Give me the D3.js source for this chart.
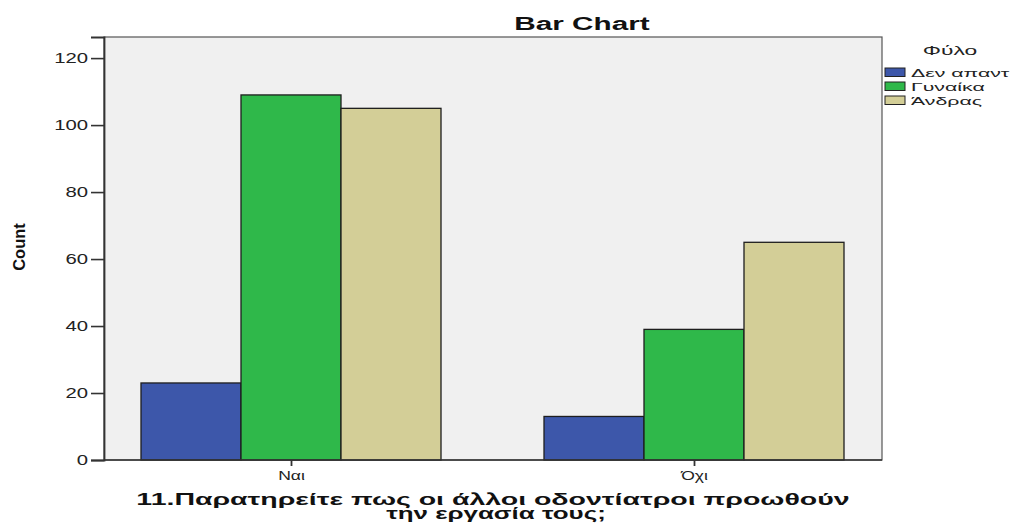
<!DOCTYPE html>
<html>
<head>
<meta charset="utf-8">
<script src="https://cdn.jsdelivr.net/npm/d3@7"></script>
<style>
  body { margin: 0; background: #ffffff; }
  svg { display: block; }
</style>
</head>
<body>
<svg id="chart" width="1013" height="523"></svg>
<script>
// Answers to question 11, split by gender
const categories = ["Ναι", "Όχι"];
const seriesNames = ["Δεν απαντ", "Γυναίκα", "Άνδρας"];
const seriesColors = ["#3d57aa", "#2fb84a", "#d3ce97"];
const noAnswer = [23, 13];
const women = [109, 39];
const men = [105, 65];
const yTicks = [0, 20, 40, 60, 80, 100, 120];

const seriesValues = [noAnswer, women, men];
const rows = categories.map((c, i) => ({
  category: c,
  values: seriesNames.map((s, j) => ({ series: s, value: seriesValues[j][i], color: seriesColors[j] }))
}));

const svg = d3.select("#chart");
const plot = { left: 104, right: 882, top: 37, bottom: 460 };
const SANS = "Liberation Sans, Arial, sans-serif";

// widen glyphs horizontally by a factor, keeping the anchor in place
function widen(sel, sx) {
  sel.each(function (d, i) {
    const f = typeof sx === "function" ? sx(d, i) : sx;
    const w = this.getComputedTextLength();
    d3.select(this).attr("textLength", w * f).attr("lengthAdjust", "spacingAndGlyphs");
  });
}

const y = d3.scaleLinear().domain([0, 126.3]).range([plot.bottom, plot.top]);
const x = d3.scalePoint().domain(categories).range([291, 694]);
const xInner = d3.scaleBand().domain(seriesNames).range([-150, 150]).padding(0);

// plot background
svg.append("rect")
  .attr("x", plot.left).attr("y", plot.top)
  .attr("width", plot.right - plot.left).attr("height", plot.bottom - plot.top)
  .attr("fill", "#f0f0f0")
  .attr("stroke", "#555").attr("stroke-width", 1.2);

// bars
const groups = svg.selectAll("g.group").data(rows).join("g")
  .attr("class", "group")
  .attr("transform", d => `translate(${x(d.category)},0)`);

groups.selectAll("rect").data(d => d.values).join("rect")
  .attr("x", d => xInner(d.series))
  .attr("y", d => y(d.value))
  .attr("width", xInner.bandwidth())
  .attr("height", d => y(0) - y(d.value))
  .attr("fill", d => d.color)
  .attr("stroke", "#1e1e1e").attr("stroke-width", 1.3);

// y axis
const yAxis = svg.append("g")
  .attr("transform", `translate(${plot.left},0)`)
  .call(d3.axisLeft(y).tickValues(yTicks).tickSize(13).tickPadding(3).tickFormat(d3.format("d")));
yAxis.select(".domain").attr("stroke", "#333").attr("stroke-width", 1.8);
yAxis.selectAll(".tick line").attr("stroke", "#333").attr("stroke-width", 1.6);
yAxis.selectAll(".tick text")
  .attr("font-family", SANS)
  .attr("font-size", 14).attr("fill", "#222")
  .call(widen, 1.45);

// x axis
const xAxis = svg.append("g")
  .attr("transform", `translate(0,${plot.bottom})`)
  .call(d3.axisBottom(x).tickSize(6).tickPadding(5));
xAxis.select(".domain").attr("d", `M${plot.left},0H${plot.right}`).attr("stroke", "#333").attr("stroke-width", 1.5);
xAxis.selectAll(".tick line").attr("stroke", "#333").attr("stroke-width", 1.8);
xAxis.selectAll(".tick text")
  .attr("font-family", SANS)
  .attr("font-size", 13).attr("fill", "#222")
  .call(widen, 1.35);

// title
svg.append("text")
  .attr("x", 582).attr("y", 30)
  .attr("text-anchor", "middle")
  .attr("font-family", SANS)
  .attr("font-weight", "bold").attr("font-size", 18)
  .attr("fill", "#111")
  .text("Bar Chart")
  .call(widen, 1.65);

// y axis title
svg.append("text")
  .attr("transform", "translate(25,247) rotate(-90)")
  .attr("text-anchor", "middle")
  .attr("font-family", SANS)
  .attr("font-weight", "bold").attr("font-size", 16.5)
  .attr("fill", "#111")
  .text("Count");

// x axis title, two lines centred on the plot
const xMid = (plot.left + plot.right) / 2;
const xTitleLines = ["11.Παρατηρείτε πως οι άλλοι οδοντίατροι προωθούν", "την εργασία τους;"];
svg.selectAll("text.xtitle").data(xTitleLines).join("text")
  .attr("class", "xtitle")
  .attr("x", (d, i) => xMid + i * 3).attr("y", (d, i) => 505 + i * 14)
  .attr("text-anchor", "middle")
  .attr("font-family", SANS)
  .attr("font-weight", "bold").attr("font-size", 16)
  .attr("fill", "#111")
  .text(d => d)
  .call(widen, (d, i) => (i === 0 ? 1.78 : 1.62));

// legend
const legend = svg.append("g");
legend.append("text")
  .attr("x", 950).attr("y", 55)
  .attr("text-anchor", "middle")
  .attr("font-family", SANS)
  .attr("font-size", 12).attr("fill", "#222")
  .text("Φύλο")
  .call(widen, 1.9);
const items = legend.selectAll("g.item").data(seriesNames).join("g")
  .attr("class", "item")
  .attr("transform", (d, i) => `translate(885,${68 + i * 14})`);
items.append("rect")
  .attr("width", 20).attr("height", 8.5)
  .attr("fill", (d, i) => seriesColors[i])
  .attr("stroke", "#222").attr("stroke-width", 1);
items.append("text")
  .attr("x", 26).attr("y", 8.5)
  .attr("font-family", SANS)
  .attr("font-size", 11.5).attr("fill", "#222")
  .text(d => d)
  .call(widen, 1.85);
</script>
</body>
</html>
